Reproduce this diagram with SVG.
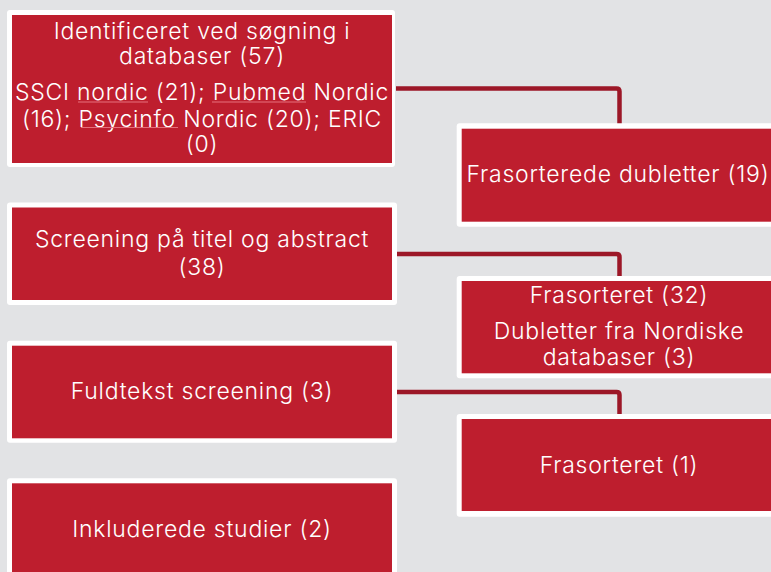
<svg xmlns="http://www.w3.org/2000/svg" width="771" height="572" viewBox="0 0 771 572">
<style>
.bg{fill:#e2e3e5}
.frame{fill:#ffffff}
.box{fill:#be1e2e}
.t{font-family:Inter,"Noto Sans","Liberation Sans",sans-serif;font-size:23px;font-weight:300;letter-spacing:0.75px;fill:#ffffff;text-anchor:middle}
.con{fill:none;stroke:#9c1727;stroke-width:4.5;stroke-linejoin:round}
.ul{stroke:#e6707c;stroke-width:1}
</style>
<rect class="bg" x="0" y="0" width="771" height="572"/>
<g id="connectors">
<path class="con" d="M396 88.5 H616.5 Q619.5 88.5 619.5 91.5 V124"/>
<path class="con" d="M396 254 H616.5 Q619.5 254 619.5 257 V277"/>
<path class="con" d="M396 392 H616.5 Q619.5 392 619.5 395 V415"/>
</g>
<g id="n1">
<rect class="frame" x="7" y="10" width="388" height="157" rx="3"/>
<rect class="box" x="12" y="15" width="380" height="148"/>
<text class="t" x="202" y="39">Identificeret ved søgning i</text>
<text class="t" x="202" y="63.5">databaser (57)</text>
<text class="t" x="202" y="100">SSCI nordic (21); Pubmed Nordic</text>
<text class="t" x="202" y="126.5">(16); Psycinfo Nordic (20); ERIC</text>
<text class="t" x="202" y="152">(0)</text>
<line class="ul" x1="78" y1="102" x2="148" y2="102"/>
<line class="ul" x1="212" y1="102" x2="306" y2="102"/>
<line class="ul" x1="81" y1="127.5" x2="178" y2="127.5"/>
</g>
<g id="n2">
<rect class="frame" x="456.7" y="123.3" width="322" height="103.4" rx="3"/>
<rect class="box" x="461.7" y="128.7" width="314.6" height="93"/>
<text class="t" x="618" y="181.5">Frasorterede dubletter (19)</text>
</g>
<g id="n3">
<rect class="frame" x="7" y="202.5" width="390" height="102.5" rx="3"/>
<rect class="box" x="12" y="207.5" width="380" height="92.5"/>
<text class="t" x="202" y="247.3">Screening på titel og abstract</text>
<text class="t" x="202" y="275">(38)</text>
</g>
<g id="n4">
<rect class="frame" x="456.7" y="276" width="322" height="102.3" rx="3"/>
<rect class="box" x="461.7" y="281" width="314.6" height="92.3"/>
<text class="t" x="619" y="303.3">Frasorteret (32)</text>
<text class="t" x="619" y="339.3">Dubletter fra Nordiske</text>
<text class="t" x="619" y="365">databaser (3)</text>
</g>
<g id="n5">
<rect class="frame" x="7" y="340.7" width="390" height="102" rx="3"/>
<rect class="box" x="12" y="345.7" width="380" height="92.6"/>
<text class="t" x="202" y="399">Fuldtekst screening (3)</text>
</g>
<g id="n6">
<rect class="frame" x="456.7" y="414" width="322" height="102.7" rx="3"/>
<rect class="box" x="461.7" y="419" width="314.6" height="92"/>
<text class="t" x="619" y="472.7">Frasorteret (1)</text>
</g>
<g id="n7">
<rect class="frame" x="7" y="478.3" width="390" height="102" rx="3"/>
<rect class="box" x="12" y="483.3" width="380" height="92"/>
<text class="t" x="202" y="537.3">Inkluderede studier (2)</text>
</g>
</svg>
